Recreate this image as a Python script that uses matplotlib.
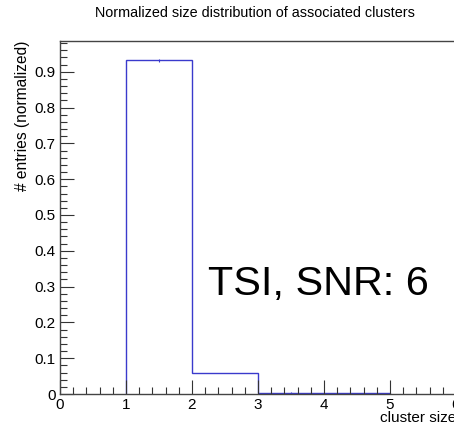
"""Normalized cluster size distribution (ROOT-style histogram look)."""

import matplotlib

matplotlib.use("Agg")
import matplotlib.pyplot as plt  # noqa: E402
from matplotlib.ticker import MultipleLocator  # noqa: E402

plt.rcParams["font.family"] = ["Liberation Sans", "DejaVu Sans"]

# histogram data
bin_edges = [1, 2, 3, 4, 5]
bin_values = [0.932, 0.059, 0.004, 0.0015]
bin_errors = [0.004, 0.001, 0.0005, 0.0003]

title = "Normalized size distribution of associated clusters"
xlabel = "cluster size"
ylabel = "# entries (normalized)"
label_text = "TSI, SNR: 6"

fig = plt.figure(figsize=(4.54, 4.26), dpi=100)
ax = fig.add_axes([60 / 454, 32 / 426, 396 / 454, 353 / 426])

hist_color = "#3a3acc"
ax.stairs(bin_values, bin_edges, baseline=0, color=hist_color, lw=1.0)
centers = [(a + b) / 2 for a, b in zip(bin_edges[:-1], bin_edges[1:])]
ax.errorbar(centers, bin_values, yerr=bin_errors, fmt="none",
            ecolor=hist_color, elinewidth=0.8, capsize=0)

ax.set_xlim(0, 6)
ax.set_ylim(0, 0.986)

ax.xaxis.set_major_locator(MultipleLocator(1))
ax.xaxis.set_minor_locator(MultipleLocator(0.2))
ax.yaxis.set_major_locator(MultipleLocator(0.1))
ax.yaxis.set_minor_locator(MultipleLocator(0.02))
ax.yaxis.set_major_formatter(plt.FuncFormatter(lambda v, p: "0" if abs(v) < 1e-9 else f"{v:.1f}"))

ax.tick_params(which="both", direction="in", top=False, right=False,
               labelsize=11, colors="#333333", labelcolor="black")
ax.tick_params(which="major", length=10, width=0.8, pad=3)
ax.tick_params(which="minor", length=5, width=0.8)

for s in ax.spines.values():
    s.set_color("#444444")
    s.set_linewidth(1.0)

ax.set_xlabel(xlabel, fontsize=11, loc="right", va="top")
ax.xaxis.set_label_coords(1.0, -0.049)
ax.set_ylabel(ylabel, fontsize=11.2, loc="top")
ax.yaxis.set_label_coords(-0.076, 1.0)

fig.text(255 / 454, 1 - 13 / 426, title, ha="center", va="center", fontsize=10.4)
ax.text(2.24, 0.277, label_text, fontsize=29.8, ha="left", va="baseline")

fig.savefig("out.png", dpi=100)
